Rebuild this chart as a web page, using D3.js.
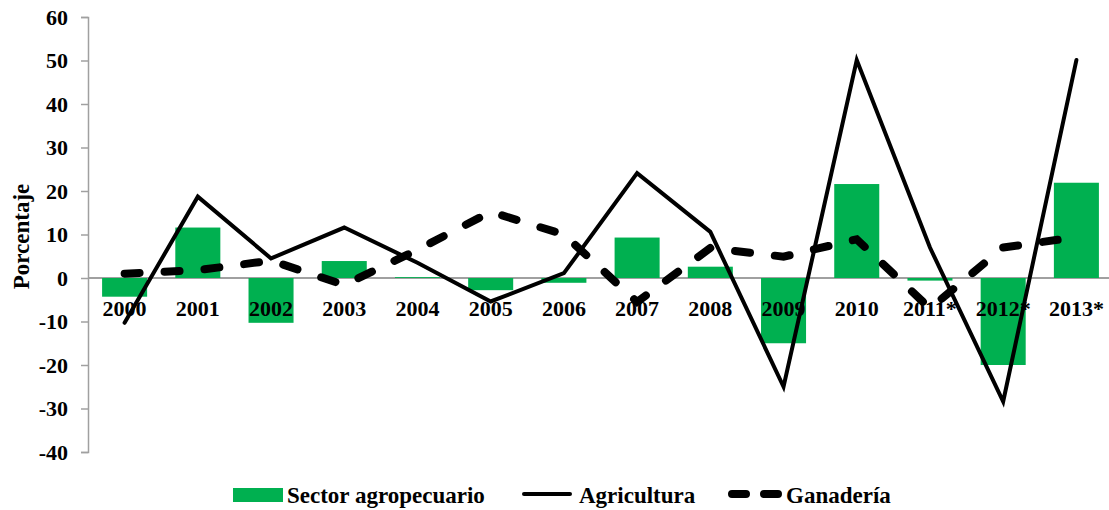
<!DOCTYPE html>
<html>
<head>
<meta charset="utf-8">
<script src="https://cdn.jsdelivr.net/npm/d3@7"></script>
<style>
  body { margin: 0; background: #fff; }
  text { font-family: "Liberation Serif", "Times New Roman", serif; font-weight: bold; }
</style>
</head>
<body>
<svg id="chart" width="1109" height="510"></svg>
<script>
const years = ["2000", "2001", "2002", "2003", "2004", "2005", "2006", "2007", "2008", "2009", "2010", "2011*", "2012*", "2013*"];
const sector = [-4.3, 11.6, -10.3, 3.9, 0.2, -2.8, -1.1, 9.3, 2.6, -15.0, 21.6, -0.6, -20.0, 21.9];
const agricultura = [-10.3, 18.7, 4.5, 11.6, 3.5, -5.4, 1.1, 24.1, 10.6, -25.0, 50.1, 7.0, -28.4, 50.1];
const ganaderia = [1.0, 1.8, 4.0, -1.6, 6.5, 15.2, 10.0, -5.5, 6.9, 4.9, 8.9, -7.0, 7.0, 9.4];
const yTicks = [-40, -30, -20, -10, 0, 10, 20, 30, 40, 50, 60];

const svg = d3.select("#chart");

const plotLeft = 88, plotRight = 1113, plotTop = 17, plotBottom = 452;

const x = d3.scaleBand()
  .domain(years)
  .range([plotLeft, plotRight])
  .paddingInner(0.385)
  .paddingOuter(0.1925);

const y = d3.scaleLinear()
  .domain([-40, 60])
  .range([plotBottom, plotTop]);

const cx = (d) => x(d) + x.bandwidth() / 2;

// y axis
const yAxis = svg.append("g")
  .attr("transform", `translate(${plotLeft},0)`)
  .call(d3.axisLeft(y).tickValues(yTicks).tickSize(7).tickPadding(13).tickFormat((d) => String(d)));
yAxis.select(".domain").attr("stroke", "#a0a0a0").attr("stroke-width", 1.5);
yAxis.selectAll(".tick line").attr("stroke", "#a0a0a0").attr("stroke-width", 1.5);
yAxis.selectAll(".tick text")
  .attr("font-size", 22)
  .attr("font-family", "Liberation Serif, serif")
  .attr("font-weight", "bold")
  .attr("fill", "#000");

// zero line
svg.append("line")
  .attr("x1", plotLeft).attr("x2", 1109)
  .attr("y1", y(0)).attr("y2", y(0))
  .attr("stroke", "#a0a0a0").attr("stroke-width", 2);

// bars
svg.append("g").selectAll("rect")
  .data(years)
  .join("rect")
  .attr("x", (d) => x(d))
  .attr("width", x.bandwidth())
  .attr("y", (d, i) => y(Math.max(0, sector[i])))
  .attr("height", (d, i) => Math.abs(y(sector[i]) - y(0)))
  .attr("fill", "#00B050");

// x labels
svg.append("g").selectAll("text")
  .data(years)
  .join("text")
  .attr("x", (d) => cx(d))
  .attr("y", y(0) + 38)
  .attr("text-anchor", "middle")
  .attr("font-size", 22)
  .attr("fill", "#000")
  .text((d) => d);

// lines
const line = d3.line()
  .x((d, i) => cx(years[i]))
  .y((d) => y(d));

svg.append("path")
  .datum(agricultura)
  .attr("d", line)
  .attr("fill", "none")
  .attr("stroke", "#000")
  .attr("stroke-width", 4)
  .attr("stroke-linejoin", "miter")
  .attr("stroke-linecap", "round");

svg.append("path")
  .datum(ganaderia)
  .attr("d", line)
  .attr("fill", "none")
  .attr("stroke", "#000")
  .attr("stroke-width", 8)
  .attr("stroke-dasharray", "15,25")
  .attr("stroke-linecap", "round");

// y title
svg.append("text")
  .attr("transform", `translate(29,${(plotTop + plotBottom) / 2 + 2}) rotate(-90)`)
  .attr("text-anchor", "middle")
  .attr("font-size", 23)
  .attr("fill", "#000")
  .text("Porcentaje");

// legend
const leg = svg.append("g").attr("transform", "translate(0,495)");
leg.append("rect").attr("x", 233).attr("y", -7).attr("width", 50).attr("height", 14).attr("fill", "#00B050");
leg.append("text").attr("x", 287).attr("y", 8).attr("font-size", 23).text("Sector agropecuario");
leg.append("line").attr("x1", 524).attr("x2", 570).attr("y1", -1).attr("y2", -1)
  .attr("stroke", "#000").attr("stroke-width", 4).attr("stroke-linecap", "round");
leg.append("text").attr("x", 579).attr("y", 8).attr("font-size", 23).text("Agricultura");
leg.append("line").attr("x1", 732).attr("x2", 780).attr("y1", -1).attr("y2", -1)
  .attr("stroke", "#000").attr("stroke-width", 8).attr("stroke-dasharray", "14,18").attr("stroke-linecap", "round");
leg.append("text").attr("x", 786).attr("y", 8).attr("font-size", 23).text("Ganadería");
</script>
</body>
</html>
